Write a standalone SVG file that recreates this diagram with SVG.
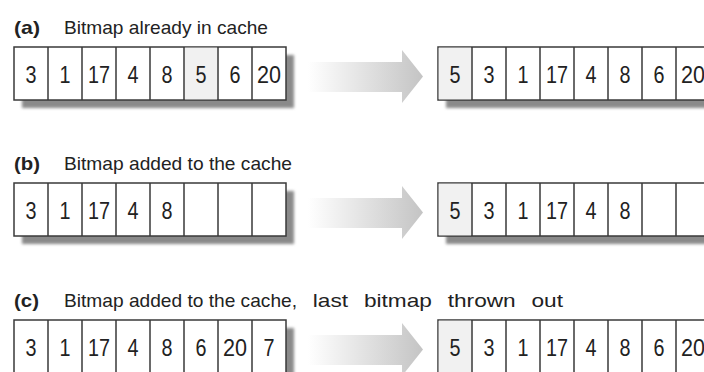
<svg xmlns="http://www.w3.org/2000/svg" width="704" height="372" viewBox="0 0 704 372">
<defs>
<linearGradient id="ag" x1="0" y1="0" x2="1" y2="0">
<stop offset="0" stop-color="#ffffff"/>
<stop offset="1" stop-color="#c4c4c4"/>
</linearGradient>
<filter id="blur" x="-10%" y="-20%" width="120%" height="150%"><feGaussianBlur stdDeviation="1.6"/></filter>
<g id="arrowShape"><polygon points="308,62 402,62 402,50 423,76.5 402,103 402,92 308,92" fill="url(#ag)"/></g>
</defs>
<style>
.t{font-family:"Liberation Sans Narrow","Liberation Sans",Arial,sans-serif;font-size:19px;fill:#222}
.b{font-weight:bold}
.n{font-family:"Liberation Sans Narrow","Liberation Sans",Arial,sans-serif;font-size:24px;fill:#222;text-anchor:middle}
.box{fill:#fff;stroke:#3a3a3a;stroke-width:1.5}
.div{stroke:#3a3a3a;stroke-width:1.5}
.hl{fill:#f1f1f1}
.sh{fill:#8a8a8a;filter:url(#blur)}
</style>
<rect width="704" height="372" fill="#fff"/>

<g id="connectors">
<use href="#arrowShape"/>
<use href="#arrowShape" transform="translate(0,136)"/>
<use href="#arrowShape" transform="translate(0,273)"/>
</g>

<g id="title-a"><text class="t b" x="14" y="34" textLength="26" lengthAdjust="spacingAndGlyphs">(a)</text><text class="t" x="64" y="34" textLength="204" lengthAdjust="spacingAndGlyphs">Bitmap already in cache</text></g>
<g id="title-b"><text class="t b" x="14" y="170" textLength="26" lengthAdjust="spacingAndGlyphs">(b)</text><text class="t" x="64" y="170" textLength="228" lengthAdjust="spacingAndGlyphs">Bitmap added to the cache</text></g>
<g id="title-c"><text class="t b" x="14" y="307" textLength="25" lengthAdjust="spacingAndGlyphs">(c)</text><text class="t" x="64" y="307" textLength="233" lengthAdjust="spacingAndGlyphs">Bitmap added to the cache,</text><text class="t" x="297" y="307" textLength="266" lengthAdjust="spacingAndGlyphs" style="word-spacing:8px" xml:space="preserve"> last bitmap thrown out</text></g>

<g id="cache-a-before">
<rect class="sh" x="22" y="55" width="272" height="53"/>
<rect class="box" x="14" y="47" width="272" height="53"/>
<rect class="hl" x="184.7" y="47.7" width="32.6" height="51.6"/>
<path class="div" d="M48 47V100M82 47V100M116 47V100M150 47V100M184 47V100M218 47V100M252 47V100"/>
<text class="n" x="31" y="82.5" textLength="11" lengthAdjust="spacingAndGlyphs">3</text>
<text class="n" x="65" y="82.5" textLength="11" lengthAdjust="spacingAndGlyphs">1</text>
<text class="n" x="99" y="82.5" textLength="22" lengthAdjust="spacingAndGlyphs">17</text>
<text class="n" x="133" y="82.5" textLength="11" lengthAdjust="spacingAndGlyphs">4</text>
<text class="n" x="167" y="82.5" textLength="11" lengthAdjust="spacingAndGlyphs">8</text>
<text class="n" x="201" y="82.5" textLength="11" lengthAdjust="spacingAndGlyphs">5</text>
<text class="n" x="235" y="82.5" textLength="11" lengthAdjust="spacingAndGlyphs">6</text>
<text class="n" x="269" y="82.5" textLength="24" lengthAdjust="spacingAndGlyphs">20</text>
</g>

<g id="cache-a-after">
<rect class="sh" x="446" y="55" width="272" height="53"/>
<rect class="box" x="438" y="47" width="272" height="53"/>
<rect class="hl" x="438.7" y="47.7" width="32.6" height="51.6"/>
<path class="div" d="M472 47V100M506 47V100M540 47V100M574 47V100M608 47V100M642 47V100M676 47V100"/>
<text class="n" x="455" y="82.5" textLength="11" lengthAdjust="spacingAndGlyphs">5</text>
<text class="n" x="489" y="82.5" textLength="11" lengthAdjust="spacingAndGlyphs">3</text>
<text class="n" x="523" y="82.5" textLength="11" lengthAdjust="spacingAndGlyphs">1</text>
<text class="n" x="557" y="82.5" textLength="22" lengthAdjust="spacingAndGlyphs">17</text>
<text class="n" x="591" y="82.5" textLength="11" lengthAdjust="spacingAndGlyphs">4</text>
<text class="n" x="625" y="82.5" textLength="11" lengthAdjust="spacingAndGlyphs">8</text>
<text class="n" x="659" y="82.5" textLength="11" lengthAdjust="spacingAndGlyphs">6</text>
<text class="n" x="693" y="82.5" textLength="24" lengthAdjust="spacingAndGlyphs">20</text>
</g>

<g id="cache-b-before" transform="translate(0,136)">
<rect class="sh" x="22" y="55" width="272" height="53"/>
<rect class="box" x="14" y="47" width="272" height="53"/>
<path class="div" d="M48 47V100M82 47V100M116 47V100M150 47V100M184 47V100M218 47V100M252 47V100"/>
<text class="n" x="31" y="82.5" textLength="11" lengthAdjust="spacingAndGlyphs">3</text>
<text class="n" x="65" y="82.5" textLength="11" lengthAdjust="spacingAndGlyphs">1</text>
<text class="n" x="99" y="82.5" textLength="22" lengthAdjust="spacingAndGlyphs">17</text>
<text class="n" x="133" y="82.5" textLength="11" lengthAdjust="spacingAndGlyphs">4</text>
<text class="n" x="167" y="82.5" textLength="11" lengthAdjust="spacingAndGlyphs">8</text>
</g>

<g id="cache-b-after" transform="translate(0,136)">
<rect class="sh" x="446" y="55" width="272" height="53"/>
<rect class="box" x="438" y="47" width="272" height="53"/>
<rect class="hl" x="438.7" y="47.7" width="32.6" height="51.6"/>
<path class="div" d="M472 47V100M506 47V100M540 47V100M574 47V100M608 47V100M642 47V100M676 47V100"/>
<text class="n" x="455" y="82.5" textLength="11" lengthAdjust="spacingAndGlyphs">5</text>
<text class="n" x="489" y="82.5" textLength="11" lengthAdjust="spacingAndGlyphs">3</text>
<text class="n" x="523" y="82.5" textLength="11" lengthAdjust="spacingAndGlyphs">1</text>
<text class="n" x="557" y="82.5" textLength="22" lengthAdjust="spacingAndGlyphs">17</text>
<text class="n" x="591" y="82.5" textLength="11" lengthAdjust="spacingAndGlyphs">4</text>
<text class="n" x="625" y="82.5" textLength="11" lengthAdjust="spacingAndGlyphs">8</text>
</g>

<g id="cache-c-before" transform="translate(0,273)">
<rect class="sh" x="22" y="55" width="272" height="53"/>
<rect class="box" x="14" y="47" width="272" height="53"/>
<path class="div" d="M48 47V100M82 47V100M116 47V100M150 47V100M184 47V100M218 47V100M252 47V100"/>
<text class="n" x="31" y="82.5" textLength="11" lengthAdjust="spacingAndGlyphs">3</text>
<text class="n" x="65" y="82.5" textLength="11" lengthAdjust="spacingAndGlyphs">1</text>
<text class="n" x="99" y="82.5" textLength="22" lengthAdjust="spacingAndGlyphs">17</text>
<text class="n" x="133" y="82.5" textLength="11" lengthAdjust="spacingAndGlyphs">4</text>
<text class="n" x="167" y="82.5" textLength="11" lengthAdjust="spacingAndGlyphs">8</text>
<text class="n" x="201" y="82.5" textLength="11" lengthAdjust="spacingAndGlyphs">6</text>
<text class="n" x="235" y="82.5" textLength="24" lengthAdjust="spacingAndGlyphs">20</text>
<text class="n" x="269" y="82.5" textLength="11" lengthAdjust="spacingAndGlyphs">7</text>
</g>

<g id="cache-c-after" transform="translate(0,273)">
<rect class="sh" x="446" y="55" width="272" height="53"/>
<rect class="box" x="438" y="47" width="272" height="53"/>
<rect class="hl" x="438.7" y="47.7" width="32.6" height="51.6"/>
<path class="div" d="M472 47V100M506 47V100M540 47V100M574 47V100M608 47V100M642 47V100M676 47V100"/>
<text class="n" x="455" y="82.5" textLength="11" lengthAdjust="spacingAndGlyphs">5</text>
<text class="n" x="489" y="82.5" textLength="11" lengthAdjust="spacingAndGlyphs">3</text>
<text class="n" x="523" y="82.5" textLength="11" lengthAdjust="spacingAndGlyphs">1</text>
<text class="n" x="557" y="82.5" textLength="22" lengthAdjust="spacingAndGlyphs">17</text>
<text class="n" x="591" y="82.5" textLength="11" lengthAdjust="spacingAndGlyphs">4</text>
<text class="n" x="625" y="82.5" textLength="11" lengthAdjust="spacingAndGlyphs">8</text>
<text class="n" x="659" y="82.5" textLength="11" lengthAdjust="spacingAndGlyphs">6</text>
<text class="n" x="693" y="82.5" textLength="24" lengthAdjust="spacingAndGlyphs">20</text>
</g>
</svg>
